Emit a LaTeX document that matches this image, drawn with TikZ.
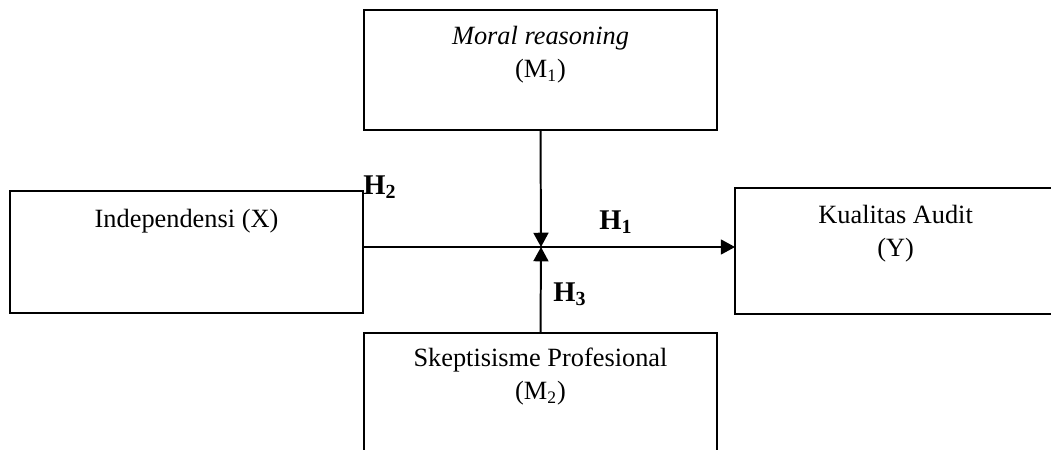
\documentclass[tikz,border=0pt]{standalone}
\usepackage{fontspec}
\setmainfont{Liberation Serif}
\usetikzlibrary{positioning,arrows.meta}
\begin{document}
\begin{tikzpicture}[x=0.016cm,y=-0.016cm]
    \tikzstyle{box}=[draw, line width=0.6pt, rectangle, minimum width=5.648cm, inner sep=0pt, outer sep=0pt]
    \tikzstyle{txt}=[inner sep=0pt, align=center, font=\fontsize{12}{15}\selectfont]
    \tikzstyle{hyp}=[inner sep=0pt, font=\fontsize{13}{15}\selectfont\bfseries]
    \tikzstyle{arr}=[line width=0.9pt, -{Triangle[length=6.5pt,width=6.8pt]}]
    \useasboundingbox (0,0) rectangle (1051,449);
    \clip (0,0) rectangle (1051,449);
    % boxes
    \node[box, minimum height=1.92cm] (m1) at (540.5,70) {};
    \node[box, minimum height=1.952cm] (indep) at (186.5,252) {};
    \node[box, minimum width=5.28cm, minimum height=2.016cm] (kual) at (900,251) {};
    \node[box, minimum height=1.952cm] (m2) at (540.5,394) {};
    % texts
    \node[txt, below=0.26cm of m1.north] (m1txt) {\textit{Moral reasoning}\\(M\textsubscript{1})};
    \node[txt, below=0.29cm of indep.north] (indeptxt) {Independensi (X)};
    \node[txt, below=0.27cm of kual.north, xshift=-0.07cm] (kualtxt) {Kualitas Audit\\(Y)};
    \node[txt, below=0.23cm of m2.north] (m2txt) {Skeptisisme Profesional\\(M\textsubscript{2})};
    % arrows
    \coordinate (hub) at (541,247);
    \draw[arr] (indep.east |- hub) -- (kual.west |- hub);
    \draw[arr] (m1.south) -- (hub);
    \draw[arr] (m2.north) -- (hub);
    % hypotheses
    \node[hyp] (h2) at (380,187) {H\textsubscript{2}};
    \node[hyp] (h1) at (616,222) {H\textsubscript{1}};
    \node[hyp] (h3) at (570,294) {H\textsubscript{3}};
\end{tikzpicture}
\end{document}
